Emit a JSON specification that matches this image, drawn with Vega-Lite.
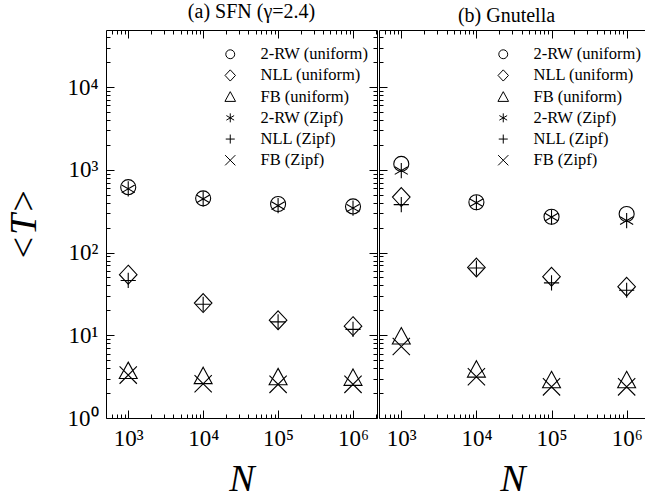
{
  "$schema": "https://vega.github.io/schema/vega-lite/v6.json",
  "padding": {"left": 5, "top": 2, "right": 0, "bottom": 0},
  "spacing": 0,
  "datasets": {
    "pts": [
      {"panel": "a", "N": 1000, "series": "2-RW (uniform)", "T": 617},
      {"panel": "a", "N": 1000, "series": "NLL (uniform)", "T": 54},
      {"panel": "a", "N": 1000, "series": "FB (uniform)", "T": 3.75},
      {"panel": "a", "N": 1000, "series": "2-RW (Zipf)", "T": 590},
      {"panel": "a", "N": 1000, "series": "NLL (Zipf)", "T": 46},
      {"panel": "a", "N": 1000, "series": "FB (Zipf)", "T": 3.3},
      {"panel": "a", "N": 10000, "series": "2-RW (uniform)", "T": 452},
      {"panel": "a", "N": 10000, "series": "NLL (uniform)", "T": 24.5},
      {"panel": "a", "N": 10000, "series": "FB (uniform)", "T": 3.25},
      {"panel": "a", "N": 10000, "series": "2-RW (Zipf)", "T": 445},
      {"panel": "a", "N": 10000, "series": "NLL (Zipf)", "T": 23.7},
      {"panel": "a", "N": 10000, "series": "FB (Zipf)", "T": 2.6},
      {"panel": "a", "N": 100000, "series": "2-RW (uniform)", "T": 386},
      {"panel": "a", "N": 100000, "series": "NLL (uniform)", "T": 15.2},
      {"panel": "a", "N": 100000, "series": "FB (uniform)", "T": 3.15},
      {"panel": "a", "N": 100000, "series": "2-RW (Zipf)", "T": 369},
      {"panel": "a", "N": 100000, "series": "NLL (Zipf)", "T": 14.5},
      {"panel": "a", "N": 100000, "series": "FB (Zipf)", "T": 2.55},
      {"panel": "a", "N": 1000000, "series": "2-RW (uniform)", "T": 361},
      {"panel": "a", "N": 1000000, "series": "NLL (uniform)", "T": 12.9},
      {"panel": "a", "N": 1000000, "series": "FB (uniform)", "T": 3.1},
      {"panel": "a", "N": 1000000, "series": "2-RW (Zipf)", "T": 345},
      {"panel": "a", "N": 1000000, "series": "NLL (Zipf)", "T": 11.8},
      {"panel": "a", "N": 1000000, "series": "FB (Zipf)", "T": 2.55},
      {"panel": "b", "N": 1000, "series": "2-RW (uniform)", "T": 1180},
      {"panel": "b", "N": 1000, "series": "NLL (uniform)", "T": 468},
      {"panel": "b", "N": 1000, "series": "FB (uniform)", "T": 9.8},
      {"panel": "b", "N": 1000, "series": "2-RW (Zipf)", "T": 980},
      {"panel": "b", "N": 1000, "series": "NLL (Zipf)", "T": 380},
      {"panel": "b", "N": 1000, "series": "FB (Zipf)", "T": 7.3},
      {"panel": "b", "N": 10000, "series": "2-RW (uniform)", "T": 405},
      {"panel": "b", "N": 10000, "series": "NLL (uniform)", "T": 66},
      {"panel": "b", "N": 10000, "series": "FB (uniform)", "T": 3.9},
      {"panel": "b", "N": 10000, "series": "2-RW (Zipf)", "T": 400},
      {"panel": "b", "N": 10000, "series": "NLL (Zipf)", "T": 65},
      {"panel": "b", "N": 10000, "series": "FB (Zipf)", "T": 3.15},
      {"panel": "b", "N": 100000, "series": "2-RW (uniform)", "T": 271},
      {"panel": "b", "N": 100000, "series": "NLL (uniform)", "T": 51},
      {"panel": "b", "N": 100000, "series": "FB (uniform)", "T": 2.9},
      {"panel": "b", "N": 100000, "series": "2-RW (Zipf)", "T": 268},
      {"panel": "b", "N": 100000, "series": "NLL (Zipf)", "T": 43},
      {"panel": "b", "N": 100000, "series": "FB (Zipf)", "T": 2.38},
      {"panel": "b", "N": 1000000, "series": "2-RW (uniform)", "T": 292},
      {"panel": "b", "N": 1000000, "series": "NLL (uniform)", "T": 38.6},
      {"panel": "b", "N": 1000000, "series": "FB (uniform)", "T": 2.9},
      {"panel": "b", "N": 1000000, "series": "2-RW (Zipf)", "T": 243},
      {"panel": "b", "N": 1000000, "series": "NLL (Zipf)", "T": 35},
      {"panel": "b", "N": 1000000, "series": "FB (Zipf)", "T": 2.38}
    ]
  },
  "resolve": {"legend": {"shape": "independent"}},
  "config": {
    "view": {"stroke": null},
    "font": "Liberation Serif",
    "axis": {
      "grid": false,
      "domainColor": "black",
      "domainWidth": 1,
      "tickColor": "black",
      "tickWidth": 1,
      "labelColor": "black",
      "labelFont": "Liberation Serif",
      "labelFontSize": 23,
      "labelOverlap": false,
      "labelBound": false,
      "labelFlush": false,
      "titleFont": "Liberation Serif",
      "titleFontSize": 38,
      "titleFontStyle": "italic",
      "titleFontWeight": "normal",
      "titleColor": "black",
      "tickSize": {"condition": {"test": "indexof([1,10,100,1000,10000,100000,1000000], datum.value) >= 0", "value": -8}, "value": -4}
    },
    "title": {"font": "Liberation Serif", "fontSize": 20, "fontWeight": "normal", "color": "black", "offset": 4},
    "legend": {
      "orient": "none",
      "title": null,
      "padding": 0,
      "symbolSize": 90,
      "symbolStrokeWidth": 1,
      "symbolStrokeColor": "black",
      "symbolFillColor": "transparent",
      "labelFont": "Liberation Serif",
      "labelFontSize": 16.5,
      "labelColor": "black",
      "labelOffset": 22,
      "rowPadding": 4.2
    }
  },
  "hconcat": [
    {
      "width": 271,
      "height": 388,
      "title": {"text": "(a) SFN (γ=2.4)", "dx": 10},
      "data": {"name": "pts"},
      "transform": [{"filter": "datum.panel == 'a'"}],
      "layer": [
        {
          "mark": {"type": "point", "filled": false, "stroke": "black", "strokeWidth": 1.1, "size": 256, "opacity": 1},
          "encoding": {
            "x": {"field": "N", "type": "quantitative", "scale": {"type": "log", "domain": [505, 2090000]},
              "axis": {"orient": "bottom", "title": "N", "titlePadding": 6, "labelPadding": 17,
                "values": [600,700,800,900,1000,2000,3000,4000,5000,6000,7000,8000,9000,10000,20000,30000,40000,50000,60000,70000,80000,90000,100000,200000,300000,400000,500000,600000,700000,800000,900000,1000000,2000000],
                "labelExpr": "indexof([1,10,100,1000,10000,100000,1000000], datum.value) >= 0 ? '10' + ['⁰','¹','²','³','⁴','⁵','⁶'][round(log(datum.value)/LN10)] : ''"}},
            "y": {"field": "T", "type": "quantitative", "scale": {"type": "log", "domain": [1, 49000]},
              "axis": {"orient": "left", "title": "<T>", "titlePadding": 23, "labelPadding": 16,
                "values": [1,2,3,4,5,6,7,8,9,10,20,30,40,50,60,70,80,90,100,200,300,400,500,600,700,800,900,1000,2000,3000,4000,5000,6000,7000,8000,9000,10000,20000,30000,40000],
                "labelExpr": "indexof([1,10,100,1000,10000,100000,1000000], datum.value) >= 0 ? '10' + ['⁰','¹','²','³','⁴','⁵','⁶'][round(log(datum.value)/LN10)] : ''"}},
            "shape": {"field": "series", "type": "nominal",
              "scale": {"domain": ["2-RW (uniform)", "NLL (uniform)", "FB (uniform)", "2-RW (Zipf)", "NLL (Zipf)", "FB (Zipf)"],
                "range": ["M0.94,0A0.94,0.94 0 1,1 -0.94,0A0.94,0.94 0 1,1 0.94,0Z", "M0,-1.18L1.1,0L0,1.18L-1.1,0Z", "M0,-1.05L1.12,1L-1.12,1Z", "M0,-0.95L0,0.95M-0.82,-0.48L0.82,0.48M-0.82,0.48L0.82,-0.48", "M-0.95,0L0.95,0M0,-0.95L0,0.95", "M-1.08,-1.08L1.08,1.08M-1.08,1.08L1.08,-1.08"]},
              "legend": {"legendX": 116, "legendY": 16, "labelFont": "Liberation Serif", "labelFontSize": 16.5}}
          }
        },
        {
          "mark": {"type": "point", "opacity": 0},
          "encoding": {
            "x": {"field": "N", "type": "quantitative", "scale": {"type": "log", "domain": [505, 2090000]},
              "axis": {"orient": "top", "title": null, "labels": false,
                "values": [600,700,800,900,1000,2000,3000,4000,5000,6000,7000,8000,9000,10000,20000,30000,40000,50000,60000,70000,80000,90000,100000,200000,300000,400000,500000,600000,700000,800000,900000,1000000,2000000]}},
            "y": {"field": "T", "type": "quantitative", "scale": {"type": "log", "domain": [1, 49000]},
              "axis": {"orient": "right", "title": null, "labels": false,
                "values": [1,2,3,4,5,6,7,8,9,10,20,30,40,50,60,70,80,90,100,200,300,400,500,600,700,800,900,1000,2000,3000,4000,5000,6000,7000,8000,9000,10000,20000,30000,40000]}}
          }
        }
      ],
      "resolve": {"scale": {"x": "independent", "y": "independent"}}
    },
    {
      "width": 267,
      "height": 388,
      "title": {"text": "(b) Gnutella", "dx": -6},
      "data": {"name": "pts"},
      "transform": [{"filter": "datum.panel == 'b'"}],
      "layer": [
        {
          "mark": {"type": "point", "filled": false, "stroke": "black", "strokeWidth": 1.1, "size": 256, "opacity": 1},
          "encoding": {
            "x": {"field": "N", "type": "quantitative", "scale": {"type": "log", "domain": [505, 1810000]},
              "axis": {"orient": "bottom", "title": "N", "titlePadding": 6, "labelPadding": 17,
                "values": [600,700,800,900,1000,2000,3000,4000,5000,6000,7000,8000,9000,10000,20000,30000,40000,50000,60000,70000,80000,90000,100000,200000,300000,400000,500000,600000,700000,800000,900000,1000000],
                "labelExpr": "indexof([1,10,100,1000,10000,100000,1000000], datum.value) >= 0 ? '10' + ['⁰','¹','²','³','⁴','⁵','⁶'][round(log(datum.value)/LN10)] : ''"}},
            "y": {"field": "T", "type": "quantitative", "scale": {"type": "log", "domain": [1, 49000]},
              "axis": {"orient": "left", "title": null, "labels": false,
                "values": [1,2,3,4,5,6,7,8,9,10,20,30,40,50,60,70,80,90,100,200,300,400,500,600,700,800,900,1000,2000,3000,4000,5000,6000,7000,8000,9000,10000,20000,30000,40000]}},
            "shape": {"field": "series", "type": "nominal",
              "scale": {"domain": ["2-RW (uniform)", "NLL (uniform)", "FB (uniform)", "2-RW (Zipf)", "NLL (Zipf)", "FB (Zipf)"],
                "range": ["M0.94,0A0.94,0.94 0 1,1 -0.94,0A0.94,0.94 0 1,1 0.94,0Z", "M0,-1.18L1.1,0L0,1.18L-1.1,0Z", "M0,-1.05L1.12,1L-1.12,1Z", "M0,-0.95L0,0.95M-0.82,-0.48L0.82,0.48M-0.82,0.48L0.82,-0.48", "M-0.95,0L0.95,0M0,-0.95L0,0.95", "M-1.08,-1.08L1.08,1.08M-1.08,1.08L1.08,-1.08"]},
              "legend": {"legendX": 116, "legendY": 16, "labelFont": "Liberation Serif", "labelFontSize": 16.5}}
          }
        },
        {
          "mark": {"type": "point", "opacity": 0},
          "encoding": {
            "x": {"field": "N", "type": "quantitative", "scale": {"type": "log", "domain": [505, 1810000]},
              "axis": {"orient": "top", "title": null, "labels": false,
                "values": [600,700,800,900,1000,2000,3000,4000,5000,6000,7000,8000,9000,10000,20000,30000,40000,50000,60000,70000,80000,90000,100000,200000,300000,400000,500000,600000,700000,800000,900000,1000000]}}
          }
        }
      ],
      "resolve": {"scale": {"x": "independent"}}
    }
  ]
}
